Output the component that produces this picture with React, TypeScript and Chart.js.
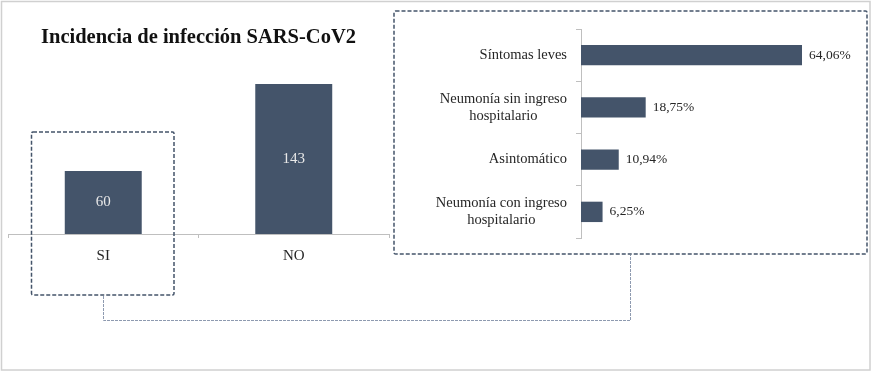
import React, { useEffect, useRef } from "react";
import { Chart, registerables } from "chart.js";

Chart.register(...registerables);

const titleText = "Incidencia de infección SARS-CoV2";
const infectionCategories = ["SI", "NO"];
const infectionCounts = [60, 143];
const severityCategories = [
  ["Síntomas leves"],
  ["Neumonía sin ingreso", "hospitalario"],
  ["Asintomático"],
  ["Neumonía con ingreso", "hospitalario"],
];
const severityPercents = [64.06, 18.75, 10.94, 6.25];

const SERIF = "'Liberation Serif', 'Times New Roman', serif";
const BAR_COLOR = "#44546a";
const AXIS_COLOR = "#bfbfbf";
const TEXT_COLOR = "#262626";

const insideValues = {
  id: "insideValues",
  afterDatasetsDraw(chart: any) {
    const ctx = chart.ctx;
    const meta = chart.getDatasetMeta(0);
    ctx.save();
    ctx.font = `15px ${SERIF}`;
    ctx.fillStyle = "#e8e8e8";
    ctx.textAlign = "center";
    ctx.textBaseline = "middle";
    meta.data.forEach((bar: any, i: number) => {
      const p = bar.getProps(["x", "y", "base"], true);
      ctx.fillText(String(chart.data.datasets[0].data[i]), p.x, (p.y + p.base) / 2);
    });
    ctx.restore();
  },
};

const severityText = {
  id: "severityText",
  afterDraw(chart: any) {
    const ctx = chart.ctx;
    const yScale = chart.scales.y;
    const xScale = chart.scales.x;
    const area = chart.chartArea;
    ctx.save();
    ctx.font = `14.5px ${SERIF}`;
    ctx.fillStyle = TEXT_COLOR;
    ctx.textBaseline = "middle";
    ctx.textAlign = "center";
    const lh = 16.7;
    severityCategories.forEach((lines, i) => {
      const cy = yScale.getPixelForValue(i);
      const w = Math.max(...lines.map((l) => ctx.measureText(l).width));
      const cx = area.left - 14 - w / 2;
      lines.forEach((l, j) => {
        ctx.fillText(l, cx, cy + (j - (lines.length - 1) / 2) * lh);
      });
    });
    ctx.textAlign = "left";
    ctx.font = `13.5px ${SERIF}`;
    severityPercents.forEach((v, i) => {
      ctx.fillText(
        v.toFixed(2).replace(".", ",") + "%",
        xScale.getPixelForValue(v) + 7,
        yScale.getPixelForValue(i)
      );
    });
    ctx.restore();
  },
};

export default function App() {
  const leftRef = useRef<HTMLCanvasElement | null>(null);
  const rightRef = useRef<HTMLCanvasElement | null>(null);

  useEffect(() => {
    const left = new Chart(leftRef.current as HTMLCanvasElement, {
      type: "bar",
      data: {
        labels: infectionCategories,
        datasets: [
          {
            data: infectionCounts,
            backgroundColor: BAR_COLOR,
            categoryPercentage: 1,
            barPercentage: 0.404,
          },
        ],
      },
      options: {
        responsive: false,
        animation: false,
        devicePixelRatio: 1,
        layout: { padding: { left: 8, right: 11, top: 0, bottom: 26 } },
        scales: {
          x: {
            grid: {
              display: true,
              drawOnChartArea: false,
              tickLength: 4,
              color: AXIS_COLOR,
              offset: true,
            },
            border: { color: AXIS_COLOR, width: 1 },
            ticks: {
              color: TEXT_COLOR,
              padding: 9,
              font: { family: SERIF, size: 15 },
            },
          },
          y: { display: false, min: 0, max: 160 },
        },
        plugins: {
          legend: { display: false },
          tooltip: { enabled: false },
          title: {
            display: true,
            text: titleText,
            color: "#111111",
            font: { family: SERIF, size: 20.5, weight: "bold" },
            padding: { top: 25, bottom: 16.6 },
          },
        },
      },
      plugins: [insideValues],
    } as any);

    const right = new Chart(rightRef.current as HTMLCanvasElement, {
      type: "bar",
      data: {
        labels: severityCategories,
        datasets: [
          {
            data: severityPercents,
            backgroundColor: BAR_COLOR,
            categoryPercentage: 1,
            barPercentage: 0.39,
          },
        ],
      },
      options: {
        indexAxis: "y",
        responsive: false,
        animation: false,
        devicePixelRatio: 1,
        layout: { padding: { left: 176, right: 15, top: 29, bottom: 22 } },
        scales: {
          x: { display: false, min: 0, max: 80 },
          y: {
            grid: {
              display: true,
              drawOnChartArea: false,
              tickLength: 5,
              color: AXIS_COLOR,
              offset: true,
            },
            border: { color: AXIS_COLOR, width: 1 },
            ticks: { display: false },
          },
        },
        plugins: {
          legend: { display: false },
          tooltip: { enabled: false },
        },
      },
      plugins: [severityText],
    } as any);

    return () => {
      left.destroy();
      right.destroy();
    };
  }, []);

  return (
    <div
      style={{
        position: "absolute",
        left: 0,
        top: 0,
        width: 872,
        height: 372,
        background: "#ffffff",
        overflow: "hidden",
      }}
    >
      <canvas
        ref={leftRef}
        width={400}
        height={300}
        style={{ position: "absolute", left: 0, top: 0, width: 400, height: 300 }}
      />
      <canvas
        ref={rightRef}
        width={472}
        height={260}
        style={{ position: "absolute", left: 400, top: 0, width: 472, height: 260 }}
      />
      <svg
        width={872}
        height={372}
        style={{ position: "absolute", left: 0, top: 0, pointerEvents: "none" }}
      >
        <rect x={1.5} y={1.5} width={868.5} height={368.5} fill="none" stroke="#d0d0d0" strokeWidth={1.5} />
        <rect x={31.5} y={132} width={142.5} height={163} rx={1.5} fill="none" stroke={BAR_COLOR} strokeWidth={1.5} strokeDasharray="4 2" />
        <rect x={394} y={11} width={473} height={243} rx={1.5} fill="none" stroke={BAR_COLOR} strokeWidth={1.5} strokeDasharray="4 2" />
        <polyline points="103.5,296 103.5,320.5 630.5,320.5 630.5,255" fill="none" stroke="#8e9ab0" strokeWidth={1} strokeDasharray="3 1" />
      </svg>
    </div>
  );
}
